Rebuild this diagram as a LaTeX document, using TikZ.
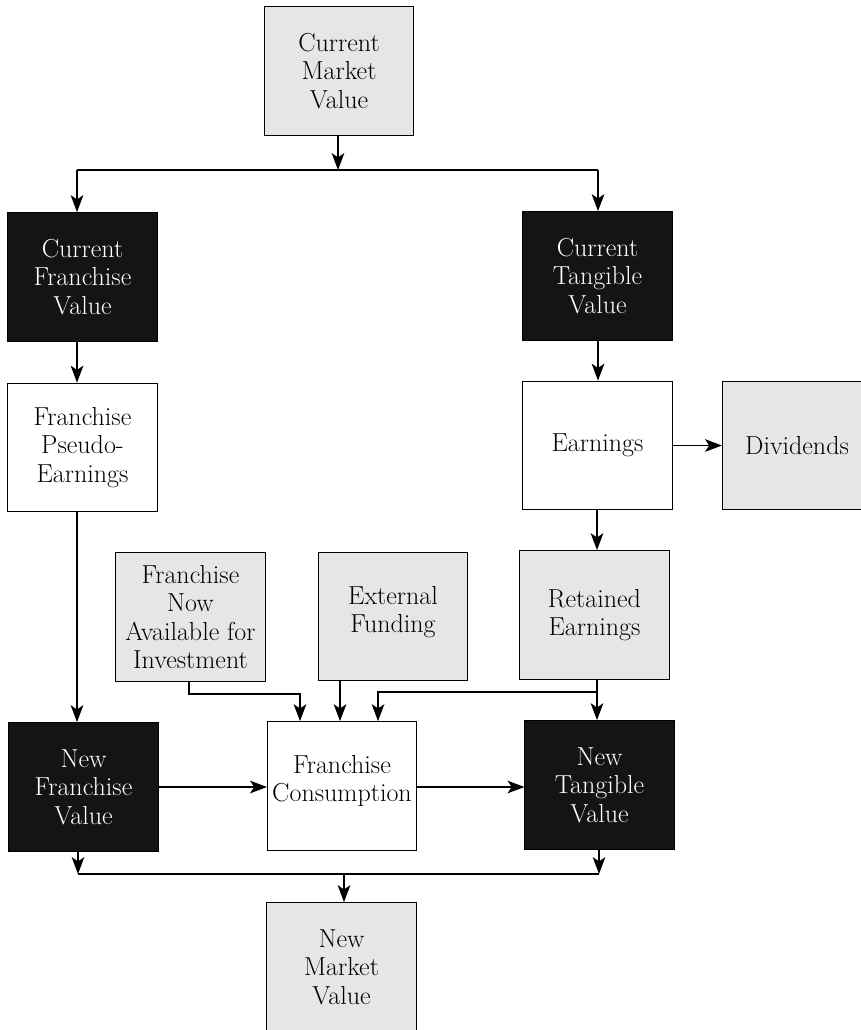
\documentclass[tikz,border=0pt]{standalone}
\usetikzlibrary{arrows.meta,calc}
\definecolor{lightfill}{RGB}{230,230,230}
\definecolor{darkfill}{RGB}{20,20,20}
\begin{document}
\begin{tikzpicture}[x=0.025cm,y=-0.025cm,
  every node/.style={font=\fontsize{18.5}{20.3}\selectfont, align=center, inner sep=0pt},
  boxbase/.style={draw=black, line width=0.7pt, minimum width=3.73cm, minimum height=3.22cm},
  lightbox/.style={boxbase, fill=lightfill},
  darkbox/.style={boxbase, fill=darkfill, text=white},
  whitebox/.style={boxbase, fill=white},
  conn/.style={line width=0.8pt, -{Stealth[length=12pt,width=9pt,inset=3pt]}},
  plain/.style={line width=0.8pt}]
\useasboundingbox (0,0) rectangle (860,1030);

% nodes
\node[lightbox] (cmv) at (339,71) {Current\\Market\\Value};
\node[darkbox] (cfv) at (82.5,277) {Current\\Franchise\\Value};
\node[darkbox] (ctv) at (597.5,276) {Current\\Tangible\\Value};
\node[whitebox] (fpe) at (82.5,447.5) {Franchise\\Pseudo-\\Earnings};
\node[whitebox] (ear) at (597.5,445.5) {Earnings};
\node[lightbox] (div) at (797,445.5) {Dividends};
\node[lightbox] (fna) at (190.5,617) {Franchise\\Now\\Available for\\Investment};
\node[lightbox] (ext) at (393,616.5) {};
\node (exttext) at (393,612) {External\\Funding};
\node[lightbox] (re) at (594.5,615) {Retained\\Earnings};
\node[darkbox] (nfv) at (83.5,787) {New\\Franchise\\Value};
\node[whitebox] (fc) at (342,786) {};
\node (fctext) at (342,781) {Franchise\\Consumption};
\node[darkbox] (ntv) at (599.5,785) {New\\Tangible\\Value};
\node[lightbox] (nmv) at (341.5,967) {New\\Market\\Value};

% junction coordinates
\coordinate (top) at (338,170);
\coordinate (lft) at (77,170);
\coordinate (rgt) at (598,170);
\coordinate (rebr) at (597,692);
\coordinate (fnabr) at (189,694);
\coordinate (bot) at (344,874);
\coordinate (botl) at (78,874);
\coordinate (botr) at (599,874);

% top split
\draw[conn] (cmv.south -| top) -- (top);
\draw[plain] (lft) -- (rgt);
\draw[conn] (lft) -- (cfv.north -| lft);
\draw[conn] (rgt) -- (ctv.north -| rgt);

% left column
\draw[conn] (cfv.south -| lft) -- (fpe.north -| lft);
\draw[conn] (fpe.south -| lft) -- (nfv.north -| lft);

% right column
\draw[conn] (ctv.south -| rgt) -- (ear.north -| rgt);
\draw[conn] (ear.east) -- (div.west);
\draw[conn] (ear.south -| rebr) -- (re.north -| rebr);
\draw[conn] (re.south -| rebr) -- (ntv.north -| rebr);

% into franchise consumption
\draw[conn] (fna.south -| fnabr) -- (fnabr) -| ([xshift=-1.05cm]fc.north);
\draw[conn] (ext.south -| 340,0) -- (fc.north -| 340,0);
\draw[conn] (rebr) -| ([xshift=0.9cm]fc.north);

% middle row
\draw[conn] (nfv.east) -- (fc.west |- nfv.east);
\draw[conn] (fc.east |- nfv.east) -- (ntv.west |- nfv.east);

% bottom merge
\draw[conn] (nfv.south -| botl) -- (botl);
\draw[conn] (ntv.south -| botr) -- (botr);
\draw[plain] (botl) -- (botr);
\draw[conn] (bot) -- (nmv.north -| bot);
\end{tikzpicture}
\end{document}
